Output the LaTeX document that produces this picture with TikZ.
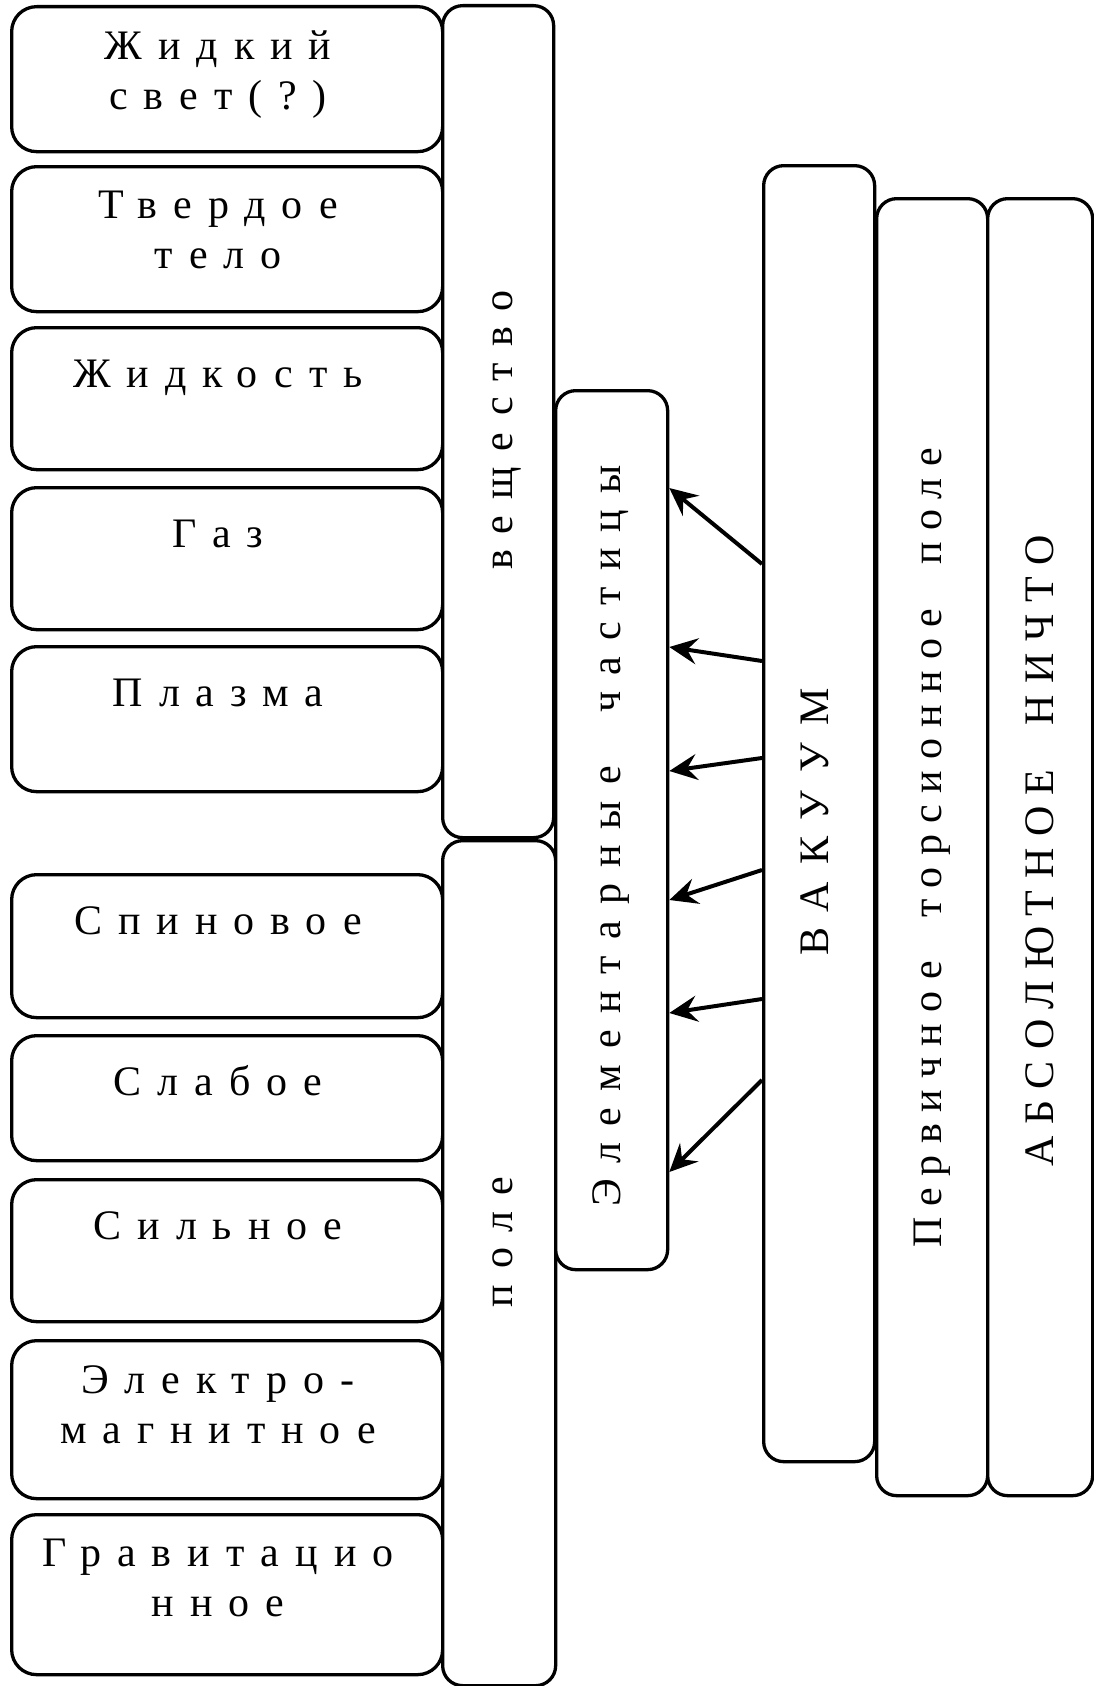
\documentclass[tikz,border=0pt]{standalone}
\usepackage{fontspec}
\setmainfont{Liberation Serif}
\usetikzlibrary{arrows.meta,positioning}

\tikzset{
   box/.style={draw, line width=3.3pt, fill=white, inner sep=0pt},
   lbl/.style={font=\fontsize{42}{50}\selectfont\addfontfeature{LetterSpace=38},
      align=center, inner sep=0pt, anchor=north, execute at begin node=\strut},
   vlbl/.style={font=\fontsize{42}{50}\selectfont\addfontfeature{LetterSpace=#1},
      rotate=90, anchor=base, inner sep=0pt},
   vlbl/.default=38,
   link/.style={line width=4pt, -{Stealth[length=28pt, width=26pt, inset=10pt]}}
}

\begin{document}
\begin{tikzpicture}[x=1pt, y=-1pt]
   \useasboundingbox (0,0) rectangle (1093,1686);

   % left column
   \foreach \n/\t/\b/\txt in {
      b1/5/150/{Жидкий\\свет(?)},
      b2/165/310/{Твердое\\тело},
      b3/326/468/{Жидкость},
      b4/486/628/{Газ},
      b5/645/790/{Плазма},
      b6/873/1016/{Спиновое},
      b7/1034/1159/{Слабое},
      b8/1178/1320/{Сильное},
      b9/1339/1497/{Электро-\\магнитное},
      b10/1513/1673/{Гравитацио\\нное}}
   {
      \node[box, rounded corners=25pt, anchor=north west, minimum width=431pt,
         minimum height={(\b-\t)*1pt}] (\n) at (10,\t) {};
      \node[lbl] (t\n) at ([xshift=-9pt, yshift=-26pt]\n.north) {\txt};
   }

   % vertical columns
   \foreach \n/\l/\r/\t/\b in {
      vesh/441/552/4/836,
      pole/441/554/839/1684,
      elem/554/666/389/1268,
      vak/762/873/164/1460,
      perv/875/986/197/1494,
      abs/986/1091/197/1494}
   {
      \node[box, rounded corners=20pt, anchor=north west, minimum width={(\r-\l)*1pt},
         minimum height={(\b-\t)*1pt}] (\n) at (\l,\t) {};
   }

   \node[vlbl] (tvesh) at (512,430) {вещество};
   \node[vlbl] (tpole) at (512,1242) {поле};
   \node[vlbl=38.6] (telem) at (620,836) {Элементарные\ \ частицы};
   \node[vlbl=42] (tvak) at (828,822) {ВАКУУМ};
   \node[vlbl=27] (tperv) at (941,848) {Первичное\ \ торсионное\ \ поле};
   \node[vlbl=27.6] (tabs) at (1053,851) {АБСОЛЮТНОЕ\ \ НИЧТО};

   % arrows from the vacuum
   \foreach \s/\e in {564/488, 661/647, 758/771, 870/900, 999/1013, 1080/1172}
   {
      \draw[link] (vak.west |- 0,\s) -- (elem.east |- 0,\e);
   }
\end{tikzpicture}
\end{document}
